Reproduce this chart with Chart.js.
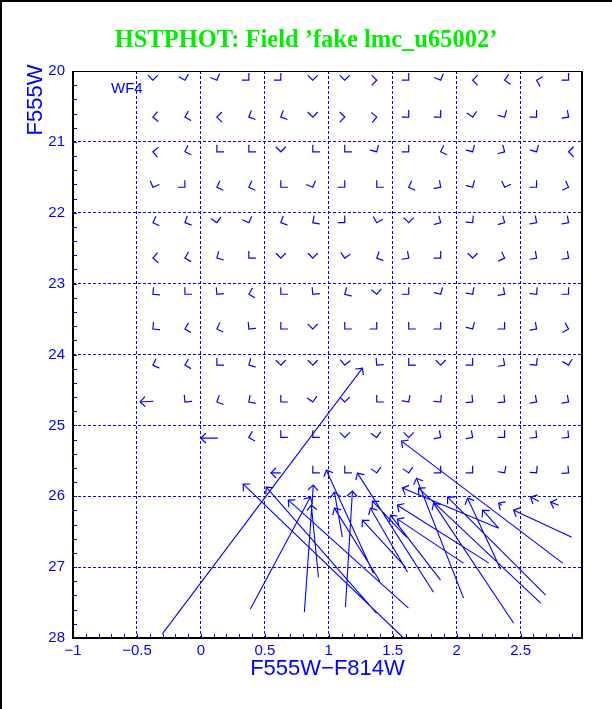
<!DOCTYPE html>
<html><head><meta charset="utf-8">
<script src="https://cdn.jsdelivr.net/npm/chart.js@4.4.0/dist/chart.umd.min.js"></script>
<style>
html,body{margin:0;padding:0;background:#fff;}
body{width:612px;height:709px;overflow:hidden;position:relative;}
#c{position:absolute;left:0;top:0;}
#frame{position:absolute;left:0;top:0;width:612px;height:709px;box-sizing:border-box;border-left:2px solid #000;border-top:2px solid #000;pointer-events:none;}
</style></head><body>
<canvas id="c" width="612" height="709"></canvas>
<div id="frame"></div>
<script>
// ---- data ----
const colorBins = [-0.375,-0.125,0.125,0.375,0.625,0.875,1.125,1.375,1.625,1.875,2.125,2.375,2.625,2.875];
const magRows = [20.13,20.65,21.14,21.64,22.14,22.64,23.15,23.64,24.15,24.67,25.17,25.67];
// direction of each small shift arrow (screen degrees, 0 = redder, 90 = fainter); null = no star
const headAngles = [
 [90,75,67,45,45,90,90,0,45,67,180,170,195,45],
 [175,165,180,155,155,90,0,355,45,45,80,60,45,35],
 [185,160,135,135,90,135,135,60,45,160,60,30,60,180],
 [112,45,160,160,135,67,45,135,160,35,60,110,45,20],
 [160,155,80,70,155,145,45,105,90,30,50,30,35,35],
 [175,165,150,135,90,90,100,155,35,45,90,20,35,35],
 [140,135,130,165,135,130,150,85,45,60,55,35,50,45],
 [140,165,160,130,135,90,135,45,135,45,60,45,35,15],
 [160,165,135,150,90,90,95,130,135,90,45,35,50,75],
 [null,130,155,145,135,80,90,135,55,50,40,40,35,35],
 [null,null,null,165,135,135,90,80,90,35,35,45,40,40],
 [null,null,null,null,null,135,135,80,80,45,45,55,50,40]
];
// long shift arrows: tail (input) -> head (output)
const bigX0 = [-0.303,1.584,1.373,1.623,0.809,0.386,0.919,1.349,1.106,1.130,1.819,1.616,1.608,1.874,2.054,2.829,2.328,2.054,2.657,2.446,2.696,2.344,2.900,2.641,2.798,2.328,-0.371,0.133,0.625,2.25,1.60,1.40,2.353];
const bigY0 = [27.946,28.0,27.650,27.579,27.636,27.594,27.142,27.085,26.577,27.565,27.354,27.071,26.577,27.184,26.944,26.944,26.450,27.438,27.509,27.791,27.396,27.029,26.577,26.069,26.126,26.450,24.66,25.18,25.67,26.94,27.0,27.2,26.126];
const bigX1 = [1.263,0.331,0.511,0.684,0.879,0.856,0.864,0.981,1.044,1.185,1.224,1.326,1.341,1.482,1.537,1.569,1.576,1.686,1.702,1.819,1.929,2.085,2.446,2.579,2.735,2.203,-0.475,0.0,0.548,1.537,1.263,1.044,2.329];
const bigY1 = [24.192,25.829,25.871,26.055,25.843,26.012,26.126,25.632,25.942,25.928,25.674,26.168,26.069,26.267,26.323,25.222,25.885,25.745,25.885,26.097,26.012,26.027,26.196,26.012,26.083,26.196,24.67,25.18,25.67,26.126,26.337,26.168,26.097];

const xTickStep = 0.1, yTickStep = 0.2;
const titleText = 'HSTPHOT: Field \u2019fake lmc_u65002\u2019';
const xTitle = 'F555W\u2212F814W';
const yTitle = 'F555W';
const chipLabel = 'WF4';

const BLUE = '#0000ff';
const shaftData = [];
bigX0.forEach((_, i) => {
  shaftData.push({x: bigX0[i], y: bigY0[i]}, {x: bigX1[i], y: bigY1[i]}, {x: bigX1[i], y: null});
});

function near(v, step){ return Math.abs(v/step - Math.round(v/step)) < 1e-6; }
function fmtX(v){
  if (!near(v, 0.5)) return '';
  const r = Math.round(v*10)/10;
  return r < 0 ? '\u2212' + Math.abs(r) : String(r);
}

const headLen = 6.5;
function drawHead(ctx, px, py, ang){
  for (const s of [-1, 1]) {
    const b = ang + Math.PI + s*Math.PI/4;
    ctx.moveTo(px, py);
    ctx.lineTo(px + headLen*Math.cos(b), py + headLen*Math.sin(b));
  }
}

const arrowPlugin = {
  id: 'arrowHeads',
  afterDatasetsDraw(chart){
    const {ctx, chartArea: a, scales: {x, y}} = chart;
    ctx.save();
    ctx.beginPath(); ctx.rect(a.left, a.top, a.right - a.left, a.bottom - a.top); ctx.clip();
    ctx.strokeStyle = BLUE; ctx.lineWidth = 1.2; ctx.lineCap = 'square';
    ctx.beginPath();
    magRows.forEach((m, r) => headAngles[r].forEach((deg, c) => {
      if (deg === null) return;
      drawHead(ctx, x.getPixelForValue(colorBins[c]), y.getPixelForValue(m), deg*Math.PI/180);
    }));
    bigX0.forEach((_, i) => {
      const x0 = x.getPixelForValue(bigX0[i]), y0 = y.getPixelForValue(bigY0[i]);
      const x1 = x.getPixelForValue(bigX1[i]), y1 = y.getPixelForValue(bigY1[i]);
      drawHead(ctx, x1, y1, Math.atan2(y1 - y0, x1 - x0));
    });
    ctx.stroke();
    ctx.restore();
  }
};

const framePlugin = {
  id: 'frameTicks',
  afterDraw(chart){
    const {ctx, chartArea: a, scales: {x, y}} = chart;
    ctx.save();
    ctx.strokeStyle = BLUE; ctx.lineWidth = 1;
    ctx.beginPath();
    x.ticks.forEach(t => {
      if (!near(t.value, xTickStep)) return;
      const px = Math.round(x.getPixelForValue(t.value)) + 0.5;
      ctx.moveTo(px, a.bottom); ctx.lineTo(px, a.bottom - 4);
    });
    y.ticks.forEach(t => {
      if (!near(t.value, yTickStep)) return;
      const py = Math.round(y.getPixelForValue(t.value)) + 0.5;
      ctx.moveTo(a.left, py); ctx.lineTo(a.left + 4, py);
    });
    ctx.stroke();
    ctx.fillStyle = '#000';
    const w = a.right - a.left, h = a.bottom - a.top;
    ctx.fillRect(a.left, a.top, w, 1);
    ctx.fillRect(a.right - 1, a.top, 2, h + 1);
    ctx.fillRect(a.left - 1, a.top, 2, h + 1);
    ctx.fillRect(a.left - 1, a.bottom - 1, w + 2, 2);
    // axis title (vertical) and chip label
    ctx.fillStyle = BLUE;
    ctx.font = '22px "Liberation Sans", Arial, sans-serif';
    ctx.save();
    ctx.translate(36, 100);
    ctx.rotate(-Math.PI/2);
    ctx.textAlign = 'center'; ctx.textBaseline = 'middle';
    ctx.fillText(yTitle, 0, 0);
    ctx.restore();
    ctx.font = '15px "Liberation Sans", Arial, sans-serif';
    ctx.textAlign = 'left'; ctx.textBaseline = 'alphabetic';
    ctx.fillText(chipLabel, a.left + 38, a.top + 22);
    ctx.restore();
  }
};

new Chart(document.getElementById('c'), {
  type: 'scatter',
  data: { datasets: [{
    data: shaftData, showLine: true, spanGaps: false,
    borderColor: BLUE, borderWidth: 1.1, pointRadius: 0, pointHoverRadius: 0, fill: false
  }]},
  options: {
    responsive: false, animation: false, devicePixelRatio: 1,
    layout: { padding: 0 },
    plugins: {
      legend: { display: false }, tooltip: { enabled: false },
      title: { display: true, text: titleText, color: '#00ee00',
        font: { family: '"Liberation Serif", "Times New Roman", serif', size: 24.5, weight: 'bold' },
        padding: { top: 25.5, bottom: 16.1 } }
    },
    scales: {
      x: { type: 'linear', position: 'bottom', min: -1, max: 2.98,
        afterFit(s){ s.height = 71; },
        ticks: { stepSize: xTickStep, includeBounds: false, autoSkip: false, maxRotation: 0, minRotation: 0, padding: 4,
          color: BLUE, font: { family: '"Liberation Sans", Arial, sans-serif', size: 15 }, callback: v => fmtX(v) },
        grid: { drawTicks: false, lineWidth: 1,
          color: c => (c.tick && near(c.tick.value, 0.5) && c.tick.value > -0.99 && c.tick.value < 2.97) ? BLUE : 'rgba(0,0,0,0)' },
        border: { display: false, dash: [3, 2] },
        title: { display: true, text: xTitle, color: BLUE,
          font: { family: '"Liberation Sans", Arial, sans-serif', size: 22 }, padding: { top: 0, bottom: 26.8 } }
      },
      y: { type: 'linear', position: 'left', min: 20, max: 28, reverse: true,
        afterFit(s){ s.width = 73; },
        ticks: { stepSize: yTickStep, autoSkip: false, padding: 8, color: BLUE,
          font: { family: '"Liberation Sans", Arial, sans-serif', size: 15 },
          callback: v => near(v, 1) ? String(Math.round(v)) : '' },
        grid: { drawTicks: false, lineWidth: 1,
          color: c => (c.tick && near(c.tick.value, 1) && c.tick.value > 20.5 && c.tick.value < 27.5) ? BLUE : 'rgba(0,0,0,0)' },
        border: { display: false, dash: [3, 2] }
      },
      y2: { type: 'linear', position: 'right', min: 20, max: 28, display: true,
        afterFit(s){ s.width = 30; },
        ticks: { display: false }, grid: { display: false }, border: { display: false } }
    }
  },
  plugins: [arrowPlugin, framePlugin]
});
</script>
</body></html>
